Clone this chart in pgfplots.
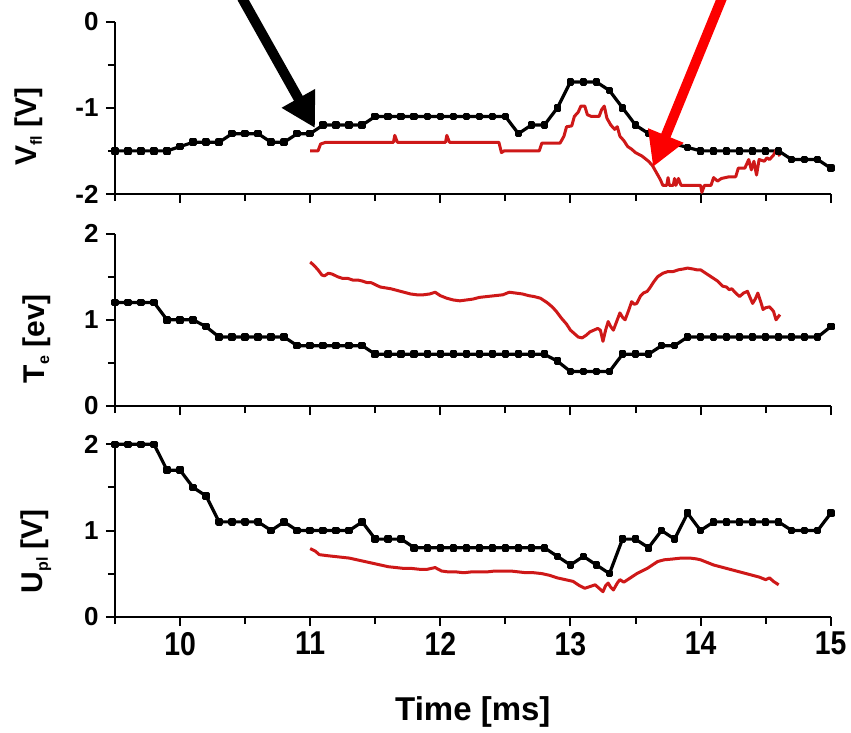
\documentclass[border=0pt]{standalone}
\usepackage{fontspec}
\setmainfont{Liberation Sans}
\newfontfamily\condfont{Liberation Sans}[FakeStretch=0.86]
\usepackage{pgfplots}
\pgfplotsset{compat=1.18}
\usetikzlibrary{arrows.meta}
\definecolor{redline}{RGB}{206,24,24}
\definecolor{arrowred}{RGB}{252,0,0}
\newcommand{\sub}[1]{\raisebox{-5pt}{\fontsize{16}{16}\selectfont #1}}
\tikzset{
  ylab/.style={at={(axis description cs:#1)}, rotate=90, anchor=center,
    font=\fontsize{30}{30}\selectfont\bfseries},
}
\pgfplotsset{
  panel/.style={
    scale only axis, width=715.7pt, height=172.4pt,
    xmin=9.5, xmax=15,
    axis x line*=bottom, axis y line*=left,
    axis line style={line width=2pt,-},
    every tick/.style={line width=2pt, black},
    tick align=outside,
    major tick length=9pt, minor tick length=7pt,
    xtick={10,11,12,13,14,15},
    minor xtick={9.5,10.5,11.5,12.5,13.5,14.5},
    /pgf/number format/assume math mode=true,
    yticklabel style={font=\fontsize{26}{26}\selectfont\bfseries, xshift=-4pt},
    xticklabel style={font=\fontsize{33}{33}\selectfont\condfont\bfseries, yshift=-3pt},
    clip=false,
  },
  blk/.style={black, line width=3.2pt, line join=round, mark=square*, mark size=2.2pt, mark options={solid}},
  rd/.style={redline, line width=3pt, line join=round, no markers},
}
\begin{document}
\begin{tikzpicture}
\path[use as bounding box] (0pt,0pt) rectangle (851pt,732pt);

% ---------- top panel: V_fl ----------
\begin{axis}[panel, at={(115pt,538pt)}, anchor=south west,
  ymin=-2, ymax=0, ytick={-2,-1,0}, minor ytick={-1.5,-0.5},
  xticklabels={},
  ylabel={V\sub{fl} [V]},
  every axis y label/.style={ylab={-0.120,0.39}}]
\addplot[blk] table {
9.5 -1.5
9.6 -1.5
9.7 -1.5
9.8 -1.5
9.9 -1.5
10.0 -1.45
10.1 -1.4
10.2 -1.4
10.3 -1.4
10.4 -1.3
10.5 -1.3
10.6 -1.3
10.7 -1.4
10.8 -1.4
10.9 -1.3
11.0 -1.3
11.1 -1.2
11.2 -1.2
11.3 -1.2
11.4 -1.2
11.5 -1.1
11.6 -1.1
11.7 -1.1
11.8 -1.1
11.9 -1.1
12.0 -1.1
12.1 -1.1
12.2 -1.1
12.3 -1.1
12.4 -1.1
12.5 -1.1
12.6 -1.3
12.7 -1.2
12.8 -1.2
12.9 -1.0
13.0 -0.7
13.1 -0.7
13.2 -0.7
13.3 -0.8
13.4 -1.0
13.5 -1.2
13.6 -1.3
13.7 -1.4
13.8 -1.42
13.9 -1.46
14.0 -1.5
14.1 -1.5
14.2 -1.5
14.3 -1.5
14.4 -1.5
14.5 -1.5
14.6 -1.5
14.7 -1.6
14.8 -1.6
14.9 -1.6
15.0 -1.7
};
\addplot[rd] table {
11.00 -1.50
11.06 -1.50
11.08 -1.42
11.12 -1.40
11.64 -1.40
11.65 -1.32
11.67 -1.40
12.04 -1.40
12.05 -1.32
12.07 -1.40
12.45 -1.40
12.47 -1.52
12.49 -1.50
12.76 -1.50
12.78 -1.41
12.92 -1.41
12.95 -1.33
12.97 -1.22
13.01 -1.21
13.03 -1.10
13.06 -1.05
13.08 -0.98
13.11 -0.98
13.13 -1.08
13.16 -1.10
13.22 -1.10
13.24 -1.02
13.26 -0.98
13.28 -1.12
13.31 -1.20
13.34 -1.25
13.36 -1.22
13.38 -1.33
13.41 -1.38
13.44 -1.45
13.47 -1.48
13.50 -1.52
13.55 -1.56
13.60 -1.62
13.63 -1.67
13.66 -1.75
13.69 -1.83
13.71 -1.90
13.74 -1.90
13.75 -1.81
13.76 -1.90
13.79 -1.90
13.80 -1.82
13.81 -1.90
13.83 -1.82
13.85 -1.90
14.00 -1.90
14.01 -1.98
14.03 -1.90
14.08 -1.90
14.10 -1.81
14.13 -1.85
14.16 -1.82
14.22 -1.80
14.27 -1.80
14.29 -1.70
14.34 -1.70
14.37 -1.60
14.39 -1.72
14.41 -1.62
14.43 -1.78
14.45 -1.60
14.49 -1.62
14.51 -1.58
14.53 -1.60
14.56 -1.55
14.58 -1.49
14.61 -1.56
};
\end{axis}

% ---------- middle panel: T_e ----------
\begin{axis}[panel, at={(115pt,326pt)}, anchor=south west,
  ymin=0, ymax=2, ytick={0,1,2}, minor ytick={0.5,1.5},
  xticklabels={},
  ylabel={T\sub{e} [ev]},
  every axis y label/.style={ylab={-0.110,0.39}}]
\addplot[blk] table {
9.5 1.2
9.6 1.2
9.7 1.2
9.8 1.2
9.9 1.0
10.0 1.0
10.1 1.0
10.2 0.92
10.3 0.8
10.4 0.8
10.5 0.8
10.6 0.8
10.7 0.8
10.8 0.8
10.9 0.7
11.0 0.7
11.1 0.7
11.2 0.7
11.3 0.7
11.4 0.7
11.5 0.6
11.6 0.6
11.7 0.6
11.8 0.6
11.9 0.6
12.0 0.6
12.1 0.6
12.2 0.6
12.3 0.6
12.4 0.6
12.5 0.6
12.6 0.6
12.7 0.6
12.8 0.6
12.9 0.52
13.0 0.4
13.1 0.4
13.2 0.4
13.3 0.4
13.4 0.6
13.5 0.6
13.6 0.6
13.7 0.7
13.8 0.7
13.9 0.8
14.0 0.8
14.1 0.8
14.2 0.8
14.3 0.8
14.4 0.8
14.5 0.8
14.6 0.8
14.7 0.8
14.8 0.8
14.9 0.8
15.0 0.92
};
\addplot[rd] table {
11.00 1.67
11.03 1.63
11.06 1.58
11.09 1.52
11.11 1.51
11.14 1.54
11.17 1.53
11.21 1.50
11.25 1.48
11.29 1.48
11.33 1.46
11.37 1.46
11.40 1.45
11.44 1.43
11.47 1.43
11.51 1.40
11.54 1.38
11.58 1.37
11.62 1.36
11.67 1.34
11.72 1.32
11.77 1.30
11.82 1.29
11.87 1.29
11.92 1.30
11.96 1.32
12.00 1.28
12.05 1.25
12.10 1.23
12.15 1.22
12.20 1.23
12.25 1.24
12.30 1.26
12.36 1.27
12.42 1.28
12.48 1.29
12.53 1.32
12.58 1.31
12.63 1.30
12.68 1.28
12.72 1.27
12.77 1.25
12.82 1.20
12.86 1.15
12.89 1.10
12.93 1.02
12.97 0.95
13.00 0.88
13.03 0.84
13.06 0.80
13.09 0.79
13.12 0.82
13.15 0.86
13.18 0.88
13.21 0.90
13.23 0.88
13.25 0.75
13.27 0.88
13.29 0.98
13.31 0.92
13.33 0.88
13.36 1.00
13.38 1.08
13.40 1.03
13.42 1.00
13.45 1.12
13.47 1.21
13.49 1.18
13.51 1.19
13.54 1.28
13.56 1.31
13.59 1.33
13.61 1.37
13.64 1.44
13.67 1.50
13.71 1.54
13.75 1.56
13.79 1.56
13.83 1.58
13.87 1.59
13.90 1.60
13.94 1.59
13.97 1.58
14.00 1.58
14.04 1.54
14.07 1.51
14.10 1.48
14.13 1.45
14.15 1.42
14.17 1.39
14.20 1.38
14.22 1.35
14.24 1.36
14.27 1.31
14.30 1.27
14.33 1.31
14.36 1.33
14.38 1.26
14.40 1.19
14.42 1.24
14.44 1.31
14.46 1.22
14.48 1.12
14.50 1.14
14.53 1.15
14.56 1.10
14.58 1.00
14.61 1.06
};
\end{axis}

% ---------- bottom panel: U_pl ----------
\begin{axis}[panel, at={(115pt,115.3pt)}, anchor=south west,
  ymin=0, ymax=2, ytick={0,1,2}, minor ytick={0.5,1.5},
  ylabel={U\sub{pl} [V]},
  every axis y label/.style={ylab={-0.110,0.38}},
  xlabel={Time [ms]},
  every axis x label/.style={at={(axis description cs:0.5,-0.551)}, anchor=center,
    font=\fontsize{33}{33}\selectfont\bfseries}]
\addplot[blk] table {
9.5 2.0
9.6 2.0
9.7 2.0
9.8 2.0
9.9 1.7
10.0 1.7
10.1 1.5
10.2 1.4
10.3 1.1
10.4 1.1
10.5 1.1
10.6 1.1
10.7 1.0
10.8 1.1
10.9 1.0
11.0 1.0
11.1 1.0
11.2 1.0
11.3 1.0
11.4 1.1
11.5 0.9
11.6 0.9
11.7 0.9
11.8 0.8
11.9 0.8
12.0 0.8
12.1 0.8
12.2 0.8
12.3 0.8
12.4 0.8
12.5 0.8
12.6 0.8
12.7 0.8
12.8 0.8
12.9 0.7
13.0 0.6
13.1 0.7
13.2 0.6
13.3 0.5
13.4 0.9
13.5 0.9
13.6 0.8
13.7 1.0
13.8 0.9
13.9 1.2
14.0 1.0
14.1 1.1
14.2 1.1
14.3 1.1
14.4 1.1
14.5 1.1
14.6 1.1
14.7 1.0
14.8 1.0
14.9 1.0
15.0 1.2
};
\addplot[rd] table {
11.00 0.79
11.04 0.76
11.07 0.72
11.12 0.71
11.18 0.70
11.24 0.69
11.30 0.68
11.36 0.66
11.42 0.64
11.48 0.62
11.54 0.60
11.60 0.58
11.66 0.57
11.72 0.56
11.78 0.56
11.84 0.55
11.90 0.55
11.96 0.57
12.01 0.53
12.06 0.52
12.12 0.52
12.18 0.51
12.24 0.52
12.30 0.52
12.36 0.52
12.42 0.53
12.48 0.53
12.54 0.53
12.60 0.52
12.66 0.51
12.72 0.51
12.78 0.50
12.84 0.48
12.90 0.45
12.96 0.43
13.02 0.41
13.07 0.36
13.11 0.33
13.15 0.35
13.19 0.37
13.22 0.33
13.25 0.29
13.27 0.36
13.29 0.39
13.31 0.34
13.33 0.31
13.36 0.39
13.38 0.43
13.41 0.40
13.43 0.42
13.47 0.46
13.51 0.50
13.55 0.53
13.59 0.56
13.63 0.60
13.67 0.64
13.72 0.66
13.79 0.67
13.85 0.68
13.92 0.68
13.97 0.67
14.00 0.66
14.05 0.63
14.10 0.60
14.15 0.58
14.20 0.56
14.25 0.54
14.30 0.52
14.35 0.50
14.40 0.48
14.45 0.46
14.50 0.43
14.53 0.45
14.56 0.41
14.60 0.37
};
\end{axis}

% ---------- annotation arrows ----------
\draw[black, line width=10pt, -{Triangle[length=34pt,width=36pt]}] (242pt,734pt) -- (315pt,604pt);
\draw[arrowred, line width=10pt, -{Triangle[length=34pt,width=36pt]}] (722pt,734pt) -- (653pt,565pt);
\end{tikzpicture}
\end{document}
